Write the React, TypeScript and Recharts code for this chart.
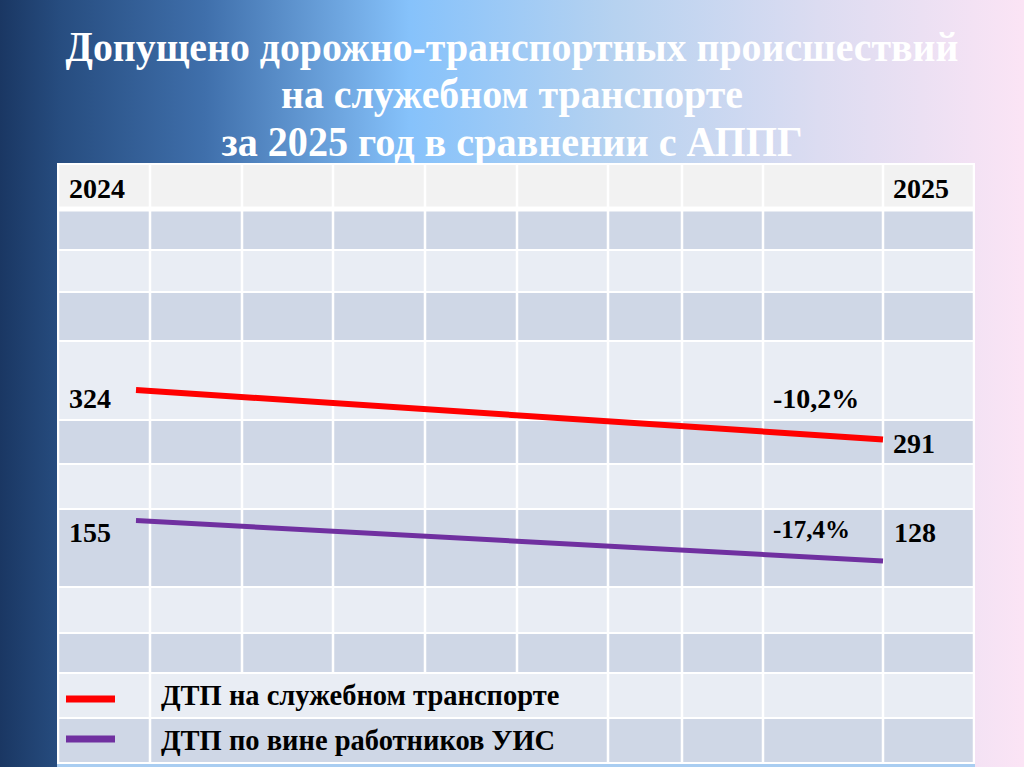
import React from 'react';
import { LineChart, Line, XAxis, YAxis } from 'recharts';

const years = ['2024', '2025'];
const officialVehicle = [324, 291];
const staffFault = [155, 128];
const seriesNames = ['ДТП на служебном транспорте', 'ДТП по вине работников УИС'];
const seriesColors = ['#ff0000', '#7030a0'];
const titleLines = [
  'Допущено дорожно-транспортных происшествий',
  'на служебном транспорте',
  'за 2025 год в сравнении с АППГ',
];

const data = years.map((y, i) => ({ year: y, official: officialVehicle[i], staff: staffFault[i] }));

const pct = (a: number, b: number) => {
  const v = ((b - a) / a) * 100;
  return v.toFixed(1).replace('.', ',') + '%';
};

const W = 1024;
const H = 767;
const colX = [58, 150, 242, 333, 425, 517, 608, 682, 763, 883, 974];
const rowY = [164, 209, 250, 292, 341, 420, 464, 509, 587, 633, 673, 718, 763];
const rowFill = (r: number) => (r === 0 ? '#f2f2f2' : r % 2 === 1 ? '#cfd7e6' : '#e9edf4');

const font = '"Liberation Serif", "Times New Roman", serif';

function Background() {
  const cells: React.ReactNode[] = [];
  for (let r = 0; r < rowY.length - 1; r++) {
    const legendRow = r >= 10;
    const y0 = rowY[r] + (r === 1 ? 2.5 : 1);
    const y1 = rowY[r + 1] - (r === 0 ? 2.5 : 1);
    for (let c = 0; c < colX.length - 1; c++) {
      if (legendRow && c >= 2 && c <= 5) continue;
      let x1 = colX[c + 1];
      if (legendRow && c === 1) x1 = colX[6];
      const x0 = colX[c];
      cells.push(
        <rect key={`${r}-${c}`} x={x0 + 1.25} y={y0} width={x1 - x0 - 2.5} height={y1 - y0} fill={rowFill(r)} />
      );
    }
  }
  const numStyle = { fontFamily: font, fontWeight: 700, fontSize: 28, fill: '#000' } as const;
  return (
    <svg width={W} height={H} style={{ position: 'absolute', left: 0, top: 0 }}>
      <defs>
        <linearGradient id="bg" x1="0" y1="0" x2="1" y2="0">
          <stop offset="0" stopColor="#1a3763" />
          <stop offset="0.06" stopColor="#274d80" />
          <stop offset="0.2" stopColor="#3f6fab" />
          <stop offset="0.4" stopColor="#86c2fb" />
          <stop offset="0.6" stopColor="#b6d2f0" />
          <stop offset="0.8" stopColor="#dcdcf1" />
          <stop offset="1" stopColor="#fbe4f5" />
        </linearGradient>
      </defs>
      <rect x={0} y={0} width={W} height={H} fill="url(#bg)" />
      <rect x={57} y={763} width={918} height={4} fill="#a9cdf1" />
      {titleLines.map((t, i) => (
        <text
          key={i}
          x={512}
          y={[61, 108, 156][i]}
          textAnchor="middle"
          fill="#ffffff"
          fontFamily={font}
          fontWeight={700}
          fontSize={42}
          textLength={[893, 462, 581][i]}
          lengthAdjust="spacingAndGlyphs"
        >
          {t}
        </text>
      ))}
      <rect x={57} y={163} width={918} height={601} fill="#ffffff" />
      {cells}
      <text x={69} y={198} {...numStyle}>{years[0]}</text>
      <text x={893} y={198} {...numStyle}>{years[1]}</text>
      <text x={69} y={408} {...numStyle}>{officialVehicle[0]}</text>
      <text x={893} y={453} {...numStyle}>{officialVehicle[1]}</text>
      <text x={773} y={408} {...numStyle}>{pct(officialVehicle[0], officialVehicle[1])}</text>
      <text x={69} y={542} {...numStyle}>{staffFault[0]}</text>
      <text x={894} y={542} {...numStyle}>{staffFault[1]}</text>
      <text x={773} y={538} {...numStyle} fontSize={25}>{pct(staffFault[0], staffFault[1])}</text>
      {seriesNames.map((n, i) => (
        <g key={n}>
          <line x1={66} x2={115} y1={[699, 739][i]} y2={[699, 739][i]} stroke={seriesColors[i]} strokeWidth={7} />
          <text x={161} y={[705, 750][i]} {...numStyle} fontSize={28.5}>{n}</text>
        </g>
      ))}
    </svg>
  );
}

export default function App() {
  return (
    <div style={{ position: 'fixed', left: 0, top: 0, width: W, height: H, overflow: 'hidden' }}>
      <Background />
      <div style={{ position: 'absolute', left: 0, top: 0 }}>
        <LineChart width={W} height={H} data={data} margin={{ top: 165, right: 141, bottom: 2, left: 136 }}>
          <XAxis dataKey="year" hide padding={{ left: 0, right: 0 }} />
          <YAxis yAxisId="a" hide type="number" domain={[74, 474]} allowDataOverflow />
          <YAxis yAxisId="b" hide type="number" domain={[-8, 392]} allowDataOverflow />
          <Line yAxisId="a" dataKey="official" name={seriesNames[0]} stroke={seriesColors[0]} strokeWidth={6} dot={false} isAnimationActive={false} />
          <Line yAxisId="b" dataKey="staff" name={seriesNames[1]} stroke={seriesColors[1]} strokeWidth={5} dot={false} isAnimationActive={false} />
        </LineChart>
      </div>
    </div>
  );
}
